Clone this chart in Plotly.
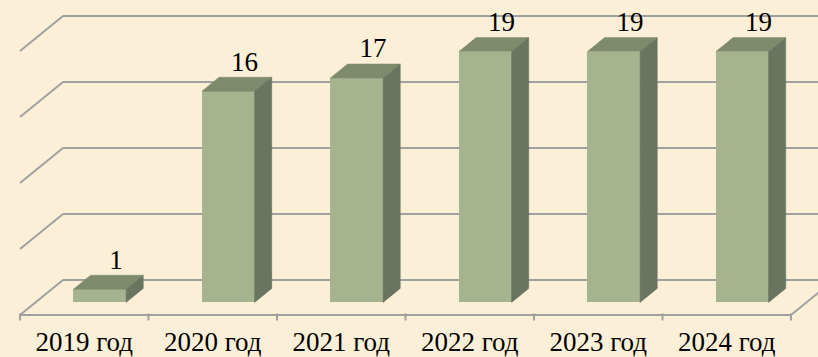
import plotly.graph_objects as go

# ---- data ----
categories = ["2019 год", "2020 год", "2021 год", "2022 год", "2023 год", "2024 год"]
values = [1, 16, 17, 19, 19, 19]
grid_values = [0, 5, 10, 15, 20]

# ---- pseudo-3D projection (category, value, depth 0..1) -> axis coords ----
W, H = 818, 357
PX_PER_CAT = 128.5      # horizontal pixels per category slot
PX_PER_UNIT = 13.2      # vertical pixels per value unit
DEPTH_PX_X = 43         # floor depth, horizontal shift
DEPTH_PX_Y = 35         # floor depth, vertical shift
ORIGIN_X = 20           # pixel position of the front-left floor corner
ORIGIN_Y = 315

DX = DEPTH_PX_X / PX_PER_CAT
DY = DEPTH_PX_Y / PX_PER_UNIT


def proj(c, v, d):
    return c + d * DX, v + d * DY


x_range = [-ORIGIN_X / PX_PER_CAT, (W - ORIGIN_X) / PX_PER_CAT]
y_range = [(ORIGIN_Y - H) / PX_PER_UNIT, ORIGIN_Y / PX_PER_UNIT]

n = len(categories)
BAR_D0, BAR_D1 = 0.36, 0.76   # bar depth span
BAR_W = 0.41                  # bar width as a share of a category slot

BG = "#FBF0D7"
GRID = "#A0A0A0"
FRONT = "#A6B38F"
TOP = "#7E8A6C"
SIDE = "#6A7560"
FONT = "'Liberation Serif', 'Times New Roman', serif"
FONT_SIZE = 27

shapes = []


def seg(p, q, color=GRID, width=2):
    shapes.append(dict(type="line", xref="x", yref="y", layer="below",
                       x0=p[0], y0=p[1], x1=q[0], y1=q[1],
                       line=dict(color=color, width=width)))


# back wall and side wall gridlines
for g in grid_values:
    seg(proj(0, g, 1), proj(n, g, 1))
    seg(proj(0, g, 0), proj(0, g, 1))

# floor front and right edges
seg(proj(0, 0, 0), proj(n, 0, 0))
seg(proj(n, 0, 0), proj(n, 0, 1))

# category tick marks on the floor front edge
for i in range(n + 1):
    seg((i, 1.5 / PX_PER_UNIT), (i, -5.5 / PX_PER_UNIT), width=2)

fig = go.Figure()

# bar front faces
centers = [i + 0.5 for i in range(n)]
fx, fy0 = proj(0, 0, BAR_D0)
fig.add_trace(go.Bar(
    x=[c + fx for c in centers], y=values, base=fy0, width=BAR_W,
    marker=dict(color=FRONT, line=dict(width=0)),
    hoverinfo="skip", showlegend=False,
))

# bar top and side faces
for c, v in zip(centers, values):
    x0, x1 = c - BAR_W / 2, c + BAR_W / 2
    top = [proj(x0, v, BAR_D0), proj(x1, v, BAR_D0),
           proj(x1, v, BAR_D1), proj(x0, v, BAR_D1)]
    side = [proj(x1, 0, BAR_D0), proj(x1, 0, BAR_D1),
            proj(x1, v, BAR_D1), proj(x1, v, BAR_D0)]
    for pts, col in ((top, TOP), (side, SIDE)):
        xs = [p[0] for p in pts] + [pts[0][0]]
        ys = [p[1] for p in pts] + [pts[0][1]]
        fig.add_trace(go.Scatter(
            x=xs, y=ys, mode="lines", fill="toself", fillcolor=col,
            line=dict(color=col, width=0.5), hoverinfo="skip", showlegend=False,
        ))

# value labels above each bar
lab_pts = [proj(c, v, 0.74) for c, v in zip(centers, values)]
fig.add_trace(go.Scatter(
    x=[p[0] for p in lab_pts],
    y=[p[1] + 14 / PX_PER_UNIT for p in lab_pts],
    mode="text", text=[str(v) for v in values], textposition="middle center",
    textfont=dict(family=FONT, size=FONT_SIZE, color="black"),
    hoverinfo="skip", showlegend=False,
))

# category labels under the floor
fig.add_trace(go.Scatter(
    x=centers, y=[-29 / PX_PER_UNIT] * n,
    mode="text", text=categories, textposition="middle center",
    textfont=dict(family=FONT, size=FONT_SIZE, color="black"),
    hoverinfo="skip", showlegend=False,
))

fig.update_layout(
    width=W, height=H, autosize=False,
    margin=dict(l=0, r=0, t=0, b=0),
    paper_bgcolor=BG, plot_bgcolor=BG,
    shapes=shapes,
    font=dict(family=FONT),
    xaxis=dict(range=x_range, visible=False, fixedrange=True),
    yaxis=dict(range=y_range, visible=False, fixedrange=True),
    bargap=0,
)

fig.write_html("out.html", config=dict(displayModeBar=False))
